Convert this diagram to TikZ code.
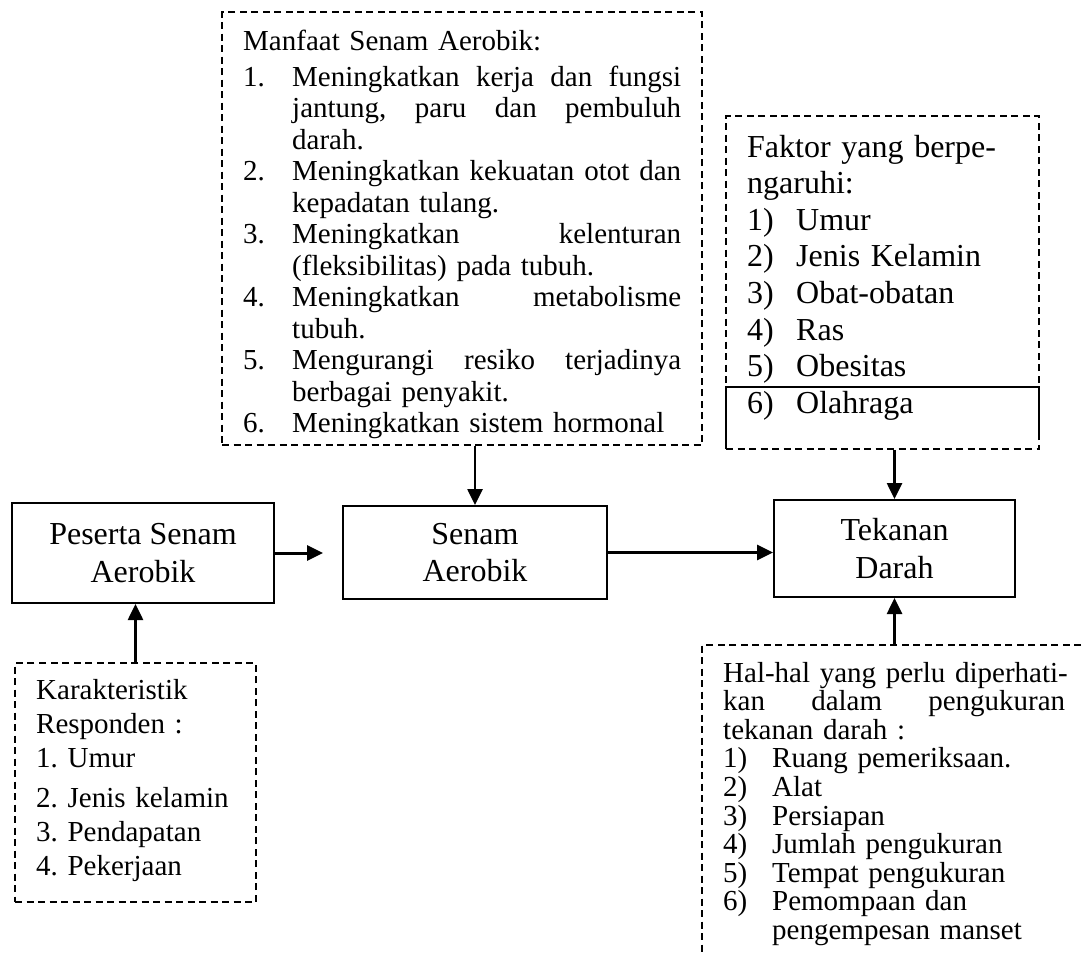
\documentclass[tikz,border=0pt]{standalone}
\usepackage{fontspec}
\setmainfont{Liberation Serif}
\usetikzlibrary{arrows.meta}
\frenchspacing
\newcommand{\lbl}[2]{\makebox[#1][l]{#2}}
\newcommand{\jst}[2]{\leavevmode\hbox to #1{#2}}

\begin{document}
\begin{tikzpicture}[>={Triangle[length=16pt,width=15pt]},x=1pt,y=-1pt,
	box/.style={draw,line width=2pt,inner sep=0pt,align=center,font=\fontsize{32}{37.5}\selectfont},
	dbox/.style={draw,line width=1.6pt,dash pattern=on 7pt off 4.5pt,inner sep=0pt},
	txt/.style={anchor=base west,inner sep=0pt,align=left},
	arr/.style={->,line width=2.6pt}]
		\useasboundingbox (0,0) rectangle (1085,956);
		\clip (0,0) rectangle (1085,956);
		% kotak utama
		\node[box,minimum width=262pt,minimum height=100pt] (psr) at (143,553) {Peserta Senam\\Aerobik};
		\node[box,minimum width=264pt,minimum height=93pt] (snm) at (475,552.5) {Senam\\Aerobik};
		\node[box,minimum width=241pt,minimum height=97pt] (tkn) at (894.5,548.5) {Tekanan\\Darah};
		% kotak putus-putus
		\node[dbox,minimum width=480pt,minimum height=433pt] (mnf) at (462,228.5) {};
		\node[dbox,minimum width=313pt,minimum height=333pt] (fkt) at (882.5,282.5) {};
		\node[dbox,minimum width=241pt,minimum height=239pt] (krk) at (135.5,782.5) {};
		\node[dbox,minimum width=408pt,minimum height=345pt] (hal) at (906,817.5) {};
		\draw[line width=1.6pt] (726,449) |- (1039,387) -- (1039,440);
		% isi kotak
		\node[txt,text width=440pt,font=\fontsize{29}{31.5}\selectfont] (mnfT) at (243,50) {Manfaat Senam Aerobik:\\[4.5pt]
			\lbl{49pt}{1.}\jst{389pt}{Meningkatkan\hfill kerja\hfill dan\hfill fungsi}\\
			\lbl{49pt}{}\jst{389pt}{jantung,\hfill paru\hfill dan\hfill pembuluh}\\
			\lbl{49pt}{}darah.\\
			\lbl{49pt}{2.}\jst{389pt}{Meningkatkan\hfill kekuatan\hfill otot\hfill dan}\\
			\lbl{49pt}{}kepadatan tulang.\\
			\lbl{49pt}{3.}\jst{389pt}{Meningkatkan\hfill kelenturan}\\
			\lbl{49pt}{}(fleksibilitas) pada tubuh.\\
			\lbl{49pt}{4.}\jst{389pt}{Meningkatkan\hfill metabolisme}\\
			\lbl{49pt}{}tubuh.\\
			\lbl{49pt}{5.}\jst{389pt}{Mengurangi\hfill resiko\hfill terjadinya}\\
			\lbl{49pt}{}berbagai penyakit.\\
			\lbl{49pt}{6.}Meningkatkan sistem hormonal};
		\node[txt,text width=285pt,font=\fontsize{32}{36.6}\selectfont] (fktT) at (747,157) {Faktor yang berpe-\\
			ngaruhi:\\
			\lbl{49pt}{1)}Umur\\
			\lbl{49pt}{2)}Jenis Kelamin\\
			\lbl{49pt}{3)}Obat-obatan\\
			\lbl{49pt}{4)}Ras\\
			\lbl{49pt}{5)}Obesitas\\
			\lbl{49pt}{6)}Olahraga};
		\node[txt,text width=215pt,font=\fontsize{29}{34}\selectfont] (krkT) at (36,699) {Karakteristik\\
			Responden :\\
			1. Umur\\[6pt]
			2. Jenis kelamin\\
			3. Pendapatan\\
			4. Pekerjaan};
		\node[txt,text width=350pt,font=\fontsize{29}{28.6}\selectfont] (halT) at (723,682) {Hal-hal yang perlu diperhati-\\
			\jst{342pt}{kan\hfill dalam\hfill pengukuran}\\
			tekanan darah :\\
			\lbl{49pt}{1)}Ruang pemeriksaan.\\
			\lbl{49pt}{2)}Alat\\
			\lbl{49pt}{3)}Persiapan\\
			\lbl{49pt}{4)}Jumlah pengukuran\\
			\lbl{49pt}{5)}Tempat pengukuran\\
			\lbl{49pt}{6)}Pemompaan dan\\
			\lbl{49pt}{}pengempesan manset};
		% panah
		\coordinate (ujung) at (323,553);
		\draw[arr,line width=3pt] (psr.east) -- (ujung);
		\draw[arr,line width=3pt] (snm.east) -- (snm.east -| tkn.west);
		\draw[arr] (mnf.south -| snm.north) -- (snm.north);
		\draw[arr] (fkt.south -| tkn.north) -- (tkn.north);
		\draw[arr] (hal.north -| tkn.south) -- (tkn.south);
		\draw[arr] (krk.north) -- (krk.north |- psr.south);
\end{tikzpicture}
\end{document}
